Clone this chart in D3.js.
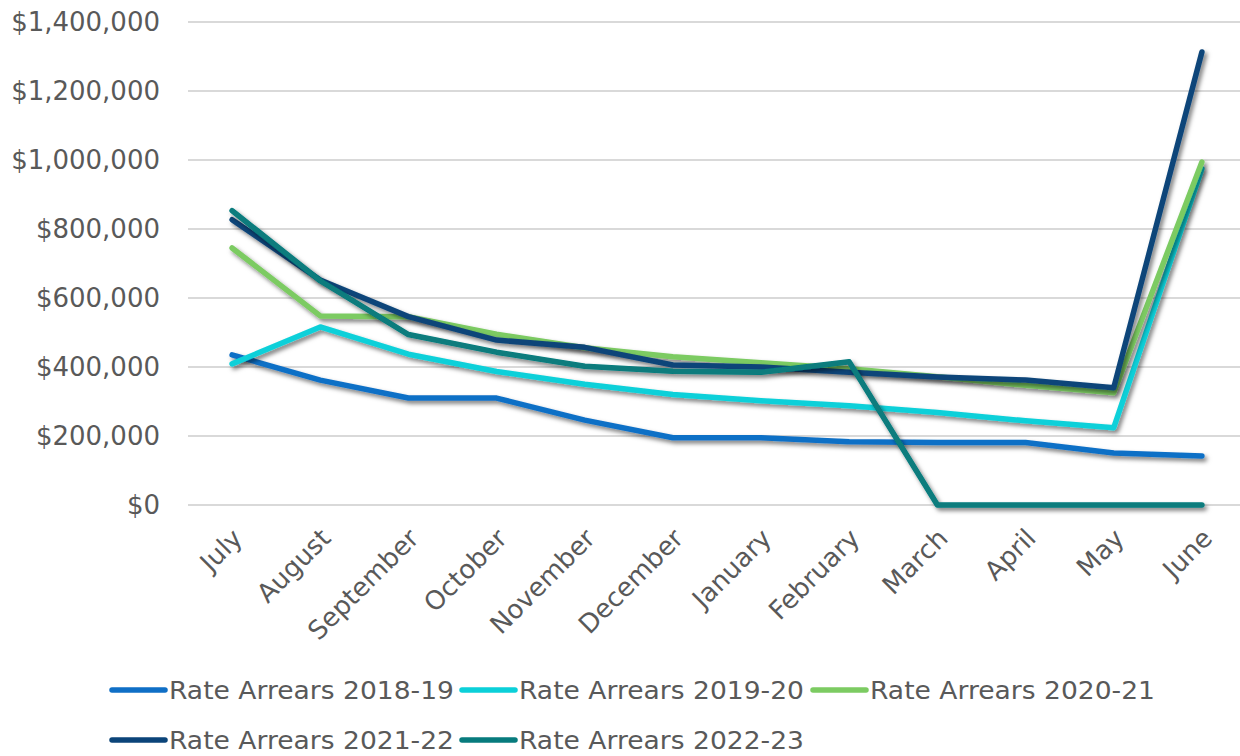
<!DOCTYPE html>
<html>
<head>
<meta charset="utf-8">
<script src="https://cdn.jsdelivr.net/npm/d3@7"></script>
<style>
  html, body { margin: 0; padding: 0; background: #fff; }
  svg { display: block; }
  text { font-family: "DejaVu Sans", sans-serif; fill: #595959; }
</style>
</head>
<body>
<svg id="chart" width="1240" height="756"></svg>
<script>
const months = ["July","August","September","October","November","December","January","February","March","April","May","June"];
const seriesNames = ["Rate Arrears 2018-19","Rate Arrears 2019-20","Rate Arrears 2020-21","Rate Arrears 2021-22","Rate Arrears 2022-23"];
const arrears2018 = [435000, 362000, 310000, 310000, 246000, 195000, 195000, 183000, 181000, 181000, 151000, 142000];
const arrears2019 = [409000, 516000, 437000, 387000, 350000, 320000, 302000, 288000, 268000, 244000, 224000, 975000];
const arrears2020 = [745000, 548000, 546000, 495000, 456000, 430000, 412000, 395000, 372000, 347000, 325000, 994000];
const arrears2021 = [827000, 652000, 546000, 478000, 457000, 406000, 400000, 385000, 371000, 362000, 340000, 1313000];
const arrears2022 = [853000, 650000, 494000, 443000, 402000, 388000, 385000, 415000, 0, 0, 0, 0];
const yTicks = [0, 200000, 400000, 600000, 800000, 1000000, 1200000, 1400000];
const colors = ["#0F6FC6", "#0BD0D9", "#7CCB62", "#0B4479", "#077B7D"];

const allSeries = [arrears2018, arrears2019, arrears2020, arrears2021, arrears2022];

const svg = d3.select("#chart");

const defs = svg.append("defs");
const f = defs.append("filter").attr("id", "shadow")
  .attr("x", "-10%").attr("y", "-10%").attr("width", "130%").attr("height", "130%");
f.append("feDropShadow").attr("dx", 2.5).attr("dy", 3).attr("stdDeviation", 2.2)
  .attr("flood-color", "#000").attr("flood-opacity", 0.5);

const x = d3.scalePoint().domain(months).range([188, 1246]).padding(0.5);
const y = d3.scaleLinear().domain([0, 1400000]).range([505, 22]);

// gridlines
svg.append("g").selectAll("line").data(yTicks).join("line")
  .attr("x1", 188).attr("x2", 1240)
  .attr("y1", d => y(d)).attr("y2", d => y(d))
  .attr("stroke", "#D9D9D9").attr("stroke-width", 2);

// y axis labels
const fmt = d3.format(",");
svg.append("g").selectAll("text").data(yTicks).join("text")
  .attr("x", 160).attr("y", d => y(d))
  .attr("dy", "0.36em")
  .attr("text-anchor", "end")
  .attr("font-size", 26)
  .text(d => "$" + fmt(d));

// x axis labels
svg.append("g").selectAll("text").data(months).join("text")
  .attr("text-anchor", "end")
  .attr("font-size", 26)
  .attr("transform", d => `translate(${x(d) - 1},${527}) rotate(-45)`)
  .attr("dy", "0.7em")
  .text(d => d);

// lines
const line = d3.line().x((d, i) => x(months[i])).y(d => y(d));
svg.append("g").selectAll("path").data(allSeries).join("path")
  .attr("d", d => line(d))
  .attr("fill", "none")
  .attr("stroke", (d, i) => colors[i])
  .attr("stroke-width", 5.5)
  .attr("stroke-linecap", "round")
  .attr("stroke-linejoin", "round")
  .attr("filter", "url(#shadow)");

// legend
const legendPos = [[110, 690], [460, 690], [811, 690], [110, 740], [460, 740]];
const lg = svg.append("g").selectAll("g").data(seriesNames).join("g")
  .attr("transform", (d, i) => `translate(${legendPos[i][0]},${legendPos[i][1]})`);
lg.append("line").attr("x1", 2).attr("x2", 55).attr("y1", 0).attr("y2", 0)
  .attr("stroke", (d, i) => colors[i]).attr("stroke-width", 5.5).attr("stroke-linecap", "round");
lg.append("text").attr("x", 59).attr("y", 0).attr("dy", "0.36em")
  .attr("font-size", 25)
  .attr("textLength", 285).attr("lengthAdjust", "spacingAndGlyphs")
  .text(d => d);
</script>
</body>
</html>
